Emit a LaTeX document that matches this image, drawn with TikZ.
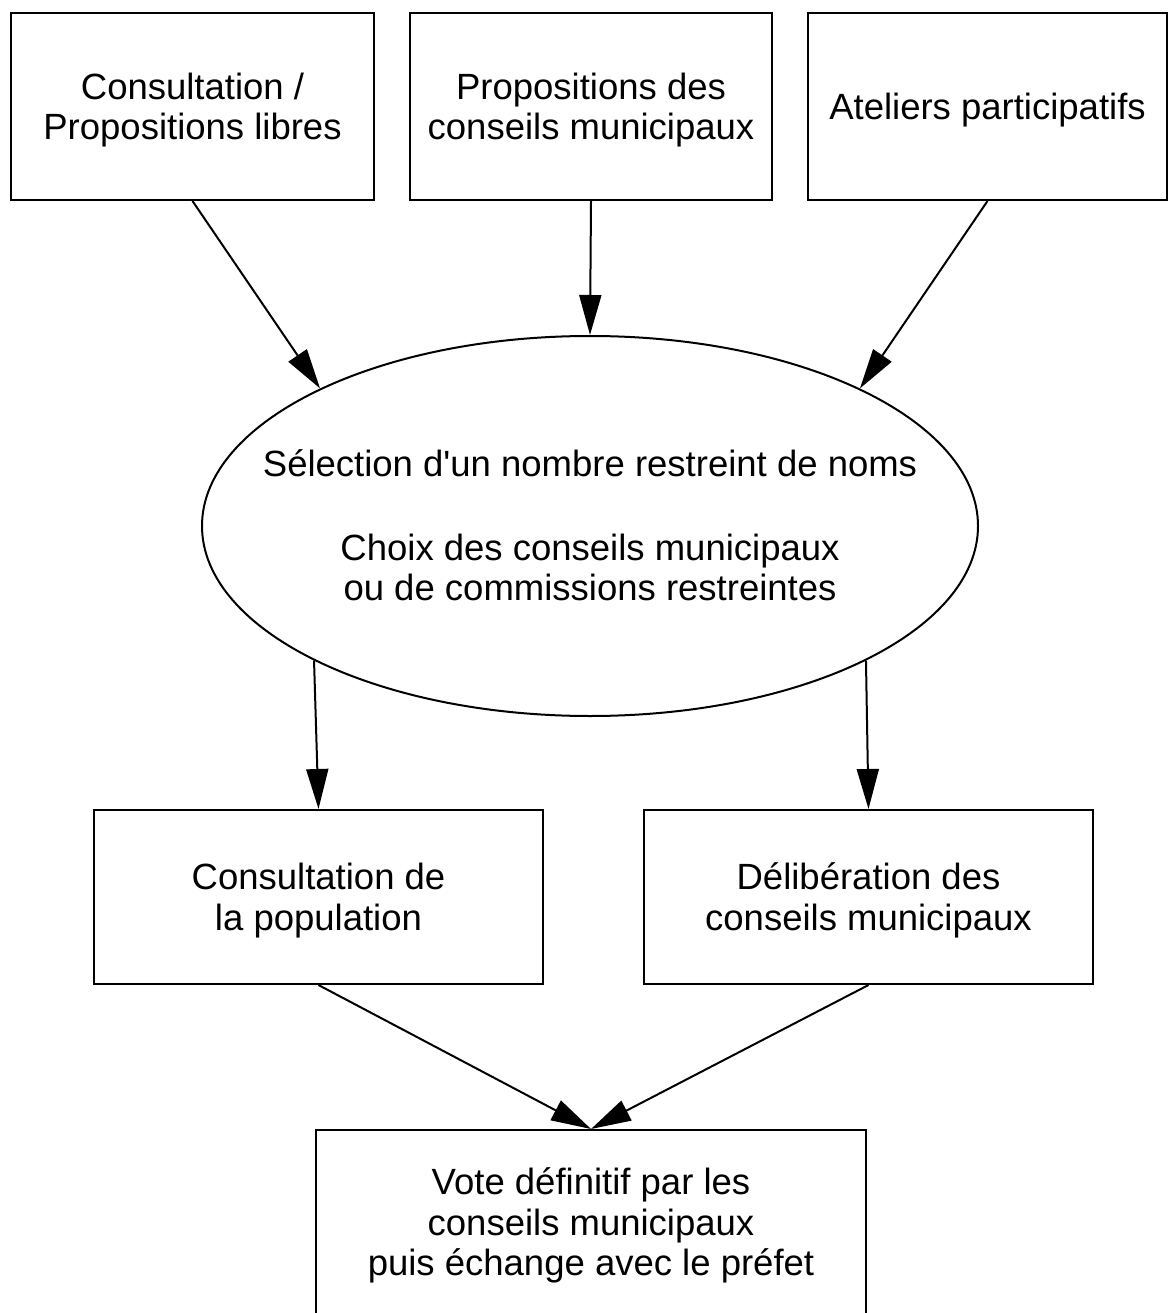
\documentclass[tikz,border=0pt]{standalone}
\usepackage{fontspec}
\setmainfont{Liberation Sans}
\usetikzlibrary{shapes.geometric,arrows.meta}
\begin{document}
\begin{tikzpicture}[x=1pt,y=-1pt,
  every node/.style={inner sep=0pt},
  every label/.style={font=\fontsize{36.5}{40.5}\selectfont, align=center, inner sep=0pt},
  rbox/.style={draw, line width=2pt, rectangle},
  ebox/.style={draw, line width=2pt, ellipse},
  txt/.style={label={[yshift=-3.5pt]center:#1}},
  etxt/.style={label={[yshift=0.5pt]center:#1}},
  conn/.style={line width=2pt, -{Triangle[length=40pt,width=22pt]}}]
\useasboundingbox (0,0) rectangle (1168,1313);
\clip (0,0) rectangle (1168,1313);
\node[rbox, minimum width=363pt, minimum height=187pt, txt={Consultation /\\Propositions libres}] (b1) at (192.5,106.5) {};
\node[rbox, minimum width=362pt, minimum height=187pt, txt={Propositions des\\conseils municipaux}] (b2) at (591,106.5) {};
\node[rbox, minimum width=359pt, minimum height=187pt, txt={Ateliers participatifs}] (b3) at (987.5,106.5) {};
\node[ebox, minimum width=776pt, minimum height=380pt, etxt={S\'election d\textquotesingle un nombre restreint de noms\\[43pt]Choix des conseils municipaux\\ou de commissions restreintes}] (ell) at (590,526) {};
\node[rbox, minimum width=449pt, minimum height=174pt, txt={Consultation de\\la population}] (l1) at (318.5,897) {};
\node[rbox, minimum width=449pt, minimum height=174pt, txt={D\'elib\'eration des\\conseils municipaux}] (l2) at (868.5,897) {};
\node[rbox, minimum width=550pt, minimum height=184pt, txt={Vote d\'efinitif par les\\conseils municipaux\\puis \'echange avec le pr\'efet}] (v) at (591,1222) {};
\draw[conn] (b1.south) -- (ell.153);
\draw[conn] (b2.south) -- (ell.north);
\draw[conn] (b3.south) -- (ell.27);
\draw[conn] (ell.206) -- (l1.north);
\draw[conn] (ell.-26) -- (l2.north);
\draw[conn] (l1.south) -- (v.north);
\draw[conn] (l2.south) -- (v.north);
\end{tikzpicture}
\end{document}
